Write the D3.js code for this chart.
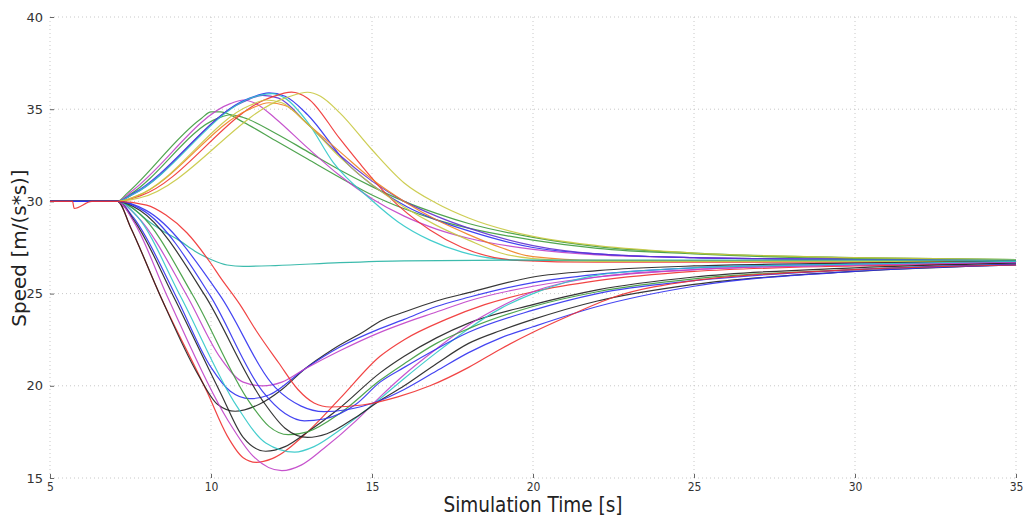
<!DOCTYPE html>
<html><head><meta charset="utf-8">
<script src="https://cdn.jsdelivr.net/npm/d3@7"></script>
<style>
body{margin:0;background:#fff;}
svg{display:block;}
.tick text{font-family:"DejaVu Sans",sans-serif;}
</style></head>
<body><svg id="c" width="1026" height="517"></svg>
<script>
// ---- data: [time, speed] pairs ----
const xTicks = [5,10,15,20,25,30,35];
const yTicks = [15,20,25,30,35,40];

const greenA  = [[5,30],[7.1,30],[7.4,30.45],[9.7,34.5],[10.0,34.85],[10.3,34.85],[11,34.3],[12,33.3],[13,32.3],[14,31.3],[15,30.35],[16,29.6],[17,29.0],[18,28.55],[20,27.9],[22,27.45],[25,27.15],[30,26.9],[35,26.85]];
const greenB  = [[5,30],[7.1,30],[7.5,30.4],[10.2,34.5],[10.6,34.7],[11,34.55],[12,33.7],[13,32.7],[14,31.7],[15,30.8],[16,30.0],[17,29.35],[18,28.8],[20,28.05],[22,27.55],[25,27.2],[30,26.95],[35,26.85]];
const magentaU= [[5,30],[7.1,30],[7.5,30.5],[10.6,35.3],[11.0,35.5],[11.4,35.3],[12,34.5],[13,32.9],[14,31.4],[15,30.15],[16,29.2],[17,28.5],[18,28.0],[20,27.4],[22,27.1],[25,26.95],[30,26.85],[35,26.8]];
const blueU   = [[5,30],[7.1,30],[7.6,30.45],[11.2,35.6],[11.8,35.88],[12.3,35.7],[13,34.7],[14.2,32.1],[15,30.9],[16.1,29.7],[17,29.0],[18,28.4],[20,27.5],[22,27.15],[25,26.95],[30,26.85],[35,26.8]];
const purpleU = [[5,30],[7.1,30],[7.6,30.4],[11.0,35.4],[11.6,35.75],[12.1,35.6],[13,34.2],[14,32.5],[15,31.1],[16,30.0],[17,29.2],[18,28.55],[20,27.6],[22,27.15],[25,26.95],[30,26.85],[35,26.8]];
const cyanU   = [[5,30],[7.1,30],[7.6,30.4],[11.4,35.7],[11.9,35.85],[12.3,35.6],[13,34.3],[13.8,32.1],[15,30.05],[15.8,28.9],[16.8,27.9],[17.8,27.25],[18.8,26.9],[20,26.8],[25,26.75],[35,26.75]];
const redU    = [[5,30],[7.1,30],[7.8,30.3],[11.8,35.6],[12.5,35.93],[13.0,35.6],[14,33.4],[14.6,32.1],[15.5,30.3],[16.8,28.45],[17.8,27.5],[19.5,26.8],[22,26.7],[35,26.7]];
const orangeU = [[5,30],[7.1,30],[7.7,30.3],[11.2,35.0],[11.8,35.35],[12.3,35.2],[13,34.2],[14,32.7],[15,31.2],[16,30.0],[17,29.0],[18,28.2],[19,27.5],[20,27.0],[22,26.8],[35,26.75]];
const yellowA = [[5,30],[7.1,30],[7.8,30.2],[12.3,35.6],[13.0,35.92],[13.4,35.7],[14,34.8],[15,32.8],[16,31.0],[17,29.9],[18,29.1],[20,28.1],[22,27.6],[25,27.2],[30,26.95],[35,26.85]];
const yellowB = [[5,30],[7.1,30],[7.7,30.3],[11.2,35.2],[11.7,35.5],[12.2,35.35],[13,34.2],[14,32.4],[15,30.9],[16,29.7],[17,28.7],[18,27.9],[19,27.2],[20,26.9],[22,26.75],[35,26.75]];
const tealFlat= [[5,30],[7.1,30],[7.6,29.6],[8.0,29.0],[8.5,28.4],[9.0,27.9],[9.5,27.3],[10.0,26.85],[10.5,26.55],[11,26.48],[12,26.52],[14,26.68],[16,26.78],[20,26.82],[35,26.82]];
const red1    = [[5,30],[7.1,30],[7.5,28.6],[8.42,24.9],[9.88,19.66],[10.5,17.3],[11.0,16.1],[11.4,15.85],[11.9,16.05],[13,17.5],[14,19.3],[15.25,21.6],[16,22.5],[17.3,23.6],[18.5,24.4],[20,25.1],[22,25.7],[25,26.2],[30,26.5],[35,26.65]];
const black3  = [[5,30],[7.1,30],[7.5,28.6],[8.42,24.9],[9.6,20.6],[10.2,19.0],[10.75,18.62],[11.5,19.0],[12.2,19.8],[12.9,20.9],[13.8,22.0],[14.8,23.0],[15.25,23.5],[16,24.0],[17,24.6],[18,25.05],[20,25.9],[22,26.25],[25,26.5],[30,26.65],[35,26.75]];
const blue2   = [[5,30],[7.1,30],[7.6,29.1],[8.9,24.9],[10.0,21.0],[10.6,19.7],[11.2,19.3],[11.8,19.5],[12.9,20.9],[14,22.1],[15.25,23.1],[16,23.6],[17,24.3],[18,24.8],[20,25.6],[22,26.05],[25,26.4],[30,26.6],[35,26.7]];
const magenta2= [[5,30],[7.1,30],[7.7,29.2],[9.25,24.9],[10.3,21.5],[11.0,20.2],[11.6,20.0],[12.2,20.2],[12.9,20.9],[14,21.9],[15.25,22.9],[16,23.4],[17,24.0],[18,24.6],[20,25.4],[22,25.9],[25,26.3],[30,26.55],[35,26.7]];
const black1  = [[5,30],[7.1,30],[7.6,29.0],[8.82,24.9],[10.3,19.6],[11.0,17.2],[11.7,16.45],[12.3,16.7],[13,17.5],[14,18.8],[15.25,20.7],[16,21.6],[17,22.6],[18,23.4],[20,24.4],[22,25.2],[25,25.9],[30,26.4],[35,26.65]];
const magenta1= [[5,30],[7.1,30],[7.6,28.9],[8.63,24.9],[10.5,18.2],[11.3,16.2],[12.2,15.4],[12.8,15.7],[13.5,16.6],[14.5,18.1],[15.25,19.4],[16,20.6],[17,22.0],[18,23.3],[19,24.3],[20,25.1],[21,25.6],[22,25.9],[25,26.3],[30,26.55],[35,26.7]];
const cyan1   = [[5,30],[7.1,30],[7.7,29.2],[9.04,24.9],[10.8,18.9],[11.7,16.9],[12.6,16.4],[13.2,16.7],[14,17.6],[15.25,19.3],[16,20.4],[17,21.8],[18,23.1],[19,24.2],[20,25.0],[21,25.6],[22,26.0],[25,26.4],[30,26.6],[35,26.75]];
const green1  = [[5,30],[7.1,30],[7.8,29.3],[9.44,24.9],[11.2,19.1],[11.8,17.8],[12.4,17.35],[13,17.5],[14,18.5],[15.25,20.3],[16,21.2],[17,22.3],[18,23.1],[20,24.3],[22,25.1],[25,25.8],[30,26.3],[35,26.6]];
const black2  = [[5,30],[7.1,30],[7.8,29.5],[9.81,24.9],[11.6,19.2],[12.3,17.7],[13.0,17.2],[13.6,17.4],[14.5,18.3],[15.25,19.2],[16,20.0],[17,21.2],[18,22.3],[19,23.0],[20,23.6],[22,24.6],[25,25.5],[30,26.2],[35,26.55]];
const blue1   = [[5,30],[7.1,30],[7.9,29.5],[9.97,24.9],[11.6,19.7],[12.3,18.5],[12.9,18.1],[13.5,18.2],[14.5,19.0],[15.25,20.2],[16,21.0],[17,22.0],[18,22.9],[20,24.1],[22,25.0],[25,25.7],[30,26.3],[35,26.6]];
const blue3   = [[5,30],[7.1,30],[8.0,29.5],[10.28,24.9],[12.0,19.9],[12.8,18.9],[13.5,18.6],[14.2,18.7],[15.25,19.2],[16,19.8],[17,20.8],[18,21.8],[19,22.6],[20,23.2],[22,24.3],[25,25.4],[30,26.2],[35,26.55]];
const red2    = [[5,30],[5.7,30],[5.75,29.62],[6.3,30],[7.1,30],[8.0,29.8],[8.6,29.26],[9.25,28.3],[9.97,26.7],[10.3,25.85],[10.9,24.4],[11.4,23.0],[12.1,21.25],[12.7,19.8],[13.2,19.07],[13.7,18.85],[14.7,18.96],[15.8,19.4],[16.8,20.0],[18,21.0],[19,22.0],[20,22.9],[21,23.7],[22.5,24.8],[25,25.7],[30,26.3],[35,26.55]];

const seriesList = [
  {d:greenA,c:"#3c9a3c"},{d:greenB,c:"#3c9a3c"},{d:magentaU,c:"#c040c8"},{d:blueU,c:"#2e2ef0"},
  {d:purpleU,c:"#6030d0"},{d:cyanU,c:"#30c8c8"},{d:redU,c:"#f03030"},{d:orangeU,c:"#f08020"},
  {d:yellowA,c:"#c8c840"},{d:yellowB,c:"#c8c840"},{d:tealFlat,c:"#28b4a4"},
  {d:red1,c:"#f03030"},{d:black3,c:"#202020"},{d:blue2,c:"#3030f0"},{d:magenta2,c:"#c040c8"},
  {d:black1,c:"#202020"},{d:magenta1,c:"#c040c8"},{d:cyan1,c:"#30c8c8"},{d:green1,c:"#3c9a3c"},
  {d:black2,c:"#202020"},{d:blue1,c:"#3030f0"},{d:blue3,c:"#3030f0"},{d:red2,c:"#f03030"}
];

const svg = d3.select("#c");
const x = d3.scaleLinear().domain([5,35]).range([50,1016]);
const y = d3.scaleLinear().domain([15,40]).range([478,17]);

// grid
svg.append("g").selectAll("line").data(xTicks).join("line")
  .attr("x1",d=>x(d)).attr("x2",d=>x(d)).attr("y1",y(40)).attr("y2",y(15))
  .attr("stroke","#c8c8c8").attr("stroke-width",1).attr("stroke-dasharray","1,3");
svg.append("g").selectAll("line").data(yTicks).join("line")
  .attr("x1",x(5)).attr("x2",x(35)).attr("y1",d=>y(d)).attr("y2",d=>y(d))
  .attr("stroke","#c8c8c8").attr("stroke-width",1).attr("stroke-dasharray","1,3");

// axes
const ya = svg.append("g").attr("transform",`translate(${x(5)},0)`)
  .call(d3.axisLeft(y).tickValues(yTicks).tickSize(-4).tickPadding(7).tickFormat(d3.format("d")));
ya.select(".domain").remove();
ya.selectAll(".tick line").attr("stroke","#666");
ya.selectAll(".tick text").attr("font-size",13).attr("fill","#333");

const xa = svg.append("g").attr("transform",`translate(0,${y(15)})`)
  .call(d3.axisBottom(x).tickValues(xTicks).tickSize(-4).tickPadding(4).tickFormat(d3.format("d")));
xa.select(".domain").remove();
xa.selectAll(".tick line").attr("stroke","#666");
xa.selectAll(".tick text").attr("font-size",12).attr("fill","#333")
  .attr("font-family","'DejaVu Sans Condensed','DejaVu Sans',sans-serif").attr("font-stretch","condensed");

// lines
const line = d3.line().x(d=>x(d[0])).y(d=>y(d[1])).curve(d3.curveMonotoneX);
svg.append("g").selectAll("path").data(seriesList).join("path")
  .attr("d",s=>line(s.d)).attr("fill","none").attr("stroke",s=>s.c)
  .attr("stroke-width",1.2).attr("stroke-opacity",0.9);

// labels
svg.append("text").attr("transform","translate(26,248) rotate(-90)").attr("text-anchor","middle")
  .attr("font-family","'DejaVu Sans',sans-serif").attr("font-size",20).attr("fill","#222")
  .text("Speed [m/(s*s)]");
svg.append("text").attr("x",533).attr("y",512).attr("text-anchor","middle")
  .attr("font-family","'DejaVu Sans Condensed','DejaVu Sans',sans-serif").attr("font-stretch","condensed")
  .attr("font-size",20.5).attr("fill","#222").text("Simulation Time [s]");
</script></body></html>
